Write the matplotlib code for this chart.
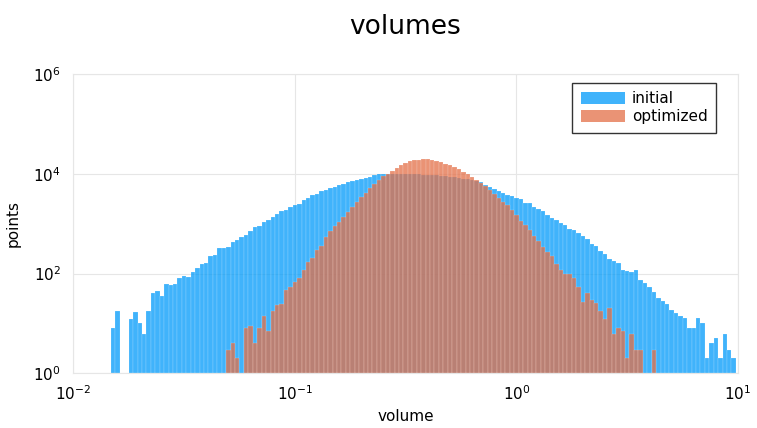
import numpy as np
import matplotlib
matplotlib.use("Agg")
import matplotlib.pyplot as plt
from matplotlib.patches import Patch
from matplotlib.ticker import FixedLocator, NullLocator

# log10 bin edges: 141 bins of 0.02 decade starting at 10^-1.83
LOG_START = -1.83
LOG_STEP = 0.02

initial_counts = [
    8, 18, 1, 1, 12, 17, 10, 6, 18, 40,
    44, 35, 61, 58, 61, 80, 91, 84, 106, 128,
    156, 160, 222, 236, 320, 331, 336, 436, 464, 532,
    602, 702, 850, 897, 1079, 1202, 1359, 1585, 1791, 1905,
    2154, 2399, 2512, 3020, 3311, 3741, 3981, 4430, 4640, 5085,
    5410, 5930, 6310, 6700, 7130, 7590, 7820, 8200, 8700, 9250,
    9690, 9900, 10000, 10050, 10050, 10000, 9950, 9900, 9800, 9700,
    9550, 9450, 9330, 9250, 9120, 8900, 8700, 8570, 8320, 8040,
    7760, 7410, 7080, 6800, 5830, 5410, 4850, 4430, 4170, 3800,
    3630, 3260, 3060, 2630, 2590, 2150, 1960, 1760, 1510, 1320,
    1200, 1050, 920, 770, 735, 650, 570, 485, 385, 360,
    284, 243, 200, 182, 166, 120, 112, 107, 116, 73,
    65, 54, 42, 33, 28, 24, 19, 16, 14, 13,
    8, 8, 13, 10, 2, 4, 5, 2, 6, 3,
    2,
]

optimized_counts = [
    0, 0, 0, 0, 0, 0, 0, 0, 0, 0,
    0, 0, 0, 0, 0, 0, 0, 0, 0, 0,
    0, 0, 0, 0, 0, 0, 3, 4, 2, 0,
    8, 9, 4, 8, 14, 7, 18, 23, 24, 46,
    54, 68, 83, 120, 172, 209, 302, 365, 535, 700,
    912, 1079, 1359, 1711, 2154, 2710, 3412, 4100, 5200, 6310,
    7590, 9000, 9800, 11300, 13300, 14900, 16300, 17900, 19000, 19300,
    19950, 19950, 19300, 18450, 17100, 15850, 14700, 13600, 12200, 11100,
    9690, 8570, 7350, 6500, 5570, 4640, 3980, 3310, 2710, 2320,
    1845, 1466, 1130, 925, 735, 575, 450, 341, 267, 225,
    158, 116, 100, 100, 83, 54, 27, 41, 30, 26,
    18, 12, 20, 6, 8, 7, 2, 6, 3, 3,
    0, 0, 3, 0, 0, 0, 0, 0, 0, 0,
    0, 0, 0, 0, 0, 0, 0, 0, 0, 0,
    0,
]

series_labels = ["initial", "optimized"]
series_colors = ["#009AFA", "#E36F47"]

x_ticks = [1e-2, 1e-1, 1e0, 1e1]
y_ticks = [1e0, 1e2, 1e4, 1e6]


def draw_hist(ax, counts, color):
    counts = np.asarray(counts, dtype=float)
    edges = 10 ** (LOG_START + LOG_STEP * np.arange(len(counts) + 1))
    keep = counts > 1
    ax.bar(edges[:-1][keep], counts[keep] - 1, bottom=1,
           width=np.diff(edges)[keep], align="edge",
           color=color, alpha=0.75, edgecolor="white", linewidth=0.15)


def main():
    fig = plt.figure(figsize=(7.57, 4.28), dpi=100)
    ax = fig.add_axes([0.0968, 0.1278, 0.8782, 0.6992])

    for counts, color in zip([initial_counts, optimized_counts], series_colors):
        draw_hist(ax, counts, color)

    ax.set_xscale("log")
    ax.set_yscale("log")
    ax.set_xlim(1e-2, 1e1)
    ax.set_ylim(1e0, 1e6)

    ax.xaxis.set_major_locator(FixedLocator(x_ticks))
    ax.yaxis.set_major_locator(FixedLocator(y_ticks))
    ax.xaxis.set_minor_locator(NullLocator())
    ax.yaxis.set_minor_locator(NullLocator())
    ax.set_xticklabels([r"$10^{%d}$" % round(np.log10(t)) for t in x_ticks])
    ax.set_yticklabels([r"$10^{%d}$" % round(np.log10(t)) for t in y_ticks])
    ax.tick_params(axis="both", length=0, labelsize=11, colors="black")
    ax.tick_params(axis="x", pad=8)
    ax.tick_params(axis="y", pad=9)

    ax.grid(True, color="#e6e6e6", linewidth=0.8)
    ax.set_axisbelow(True)
    for side in ax.spines.values():
        side.set_color("#e6e6e6")
        side.set_linewidth(0.8)

    ax.set_xlabel("volume", fontsize=11, labelpad=4)
    ax.set_ylabel("points", fontsize=11, labelpad=9)
    fig.text(0.5357, 0.937, "volumes", fontsize=19, ha="center", va="center")

    handles = [Patch(facecolor=c, alpha=0.75, edgecolor="none") for c in series_colors]
    leg = ax.legend(handles, series_labels, loc="upper right",
                    bbox_to_anchor=(0.967, 0.970), fontsize=11,
                    frameon=True, fancybox=False, handlelength=2.9,
                    handleheight=0.85, handletextpad=0.45, labelspacing=0.2,
                    borderpad=0.55, borderaxespad=0)
    leg.get_frame().set_edgecolor("black")
    leg.get_frame().set_linewidth(1.0)

    fig.savefig("out.png", dpi=100)
    plt.close(fig)


if __name__ == "__main__":
    main()
